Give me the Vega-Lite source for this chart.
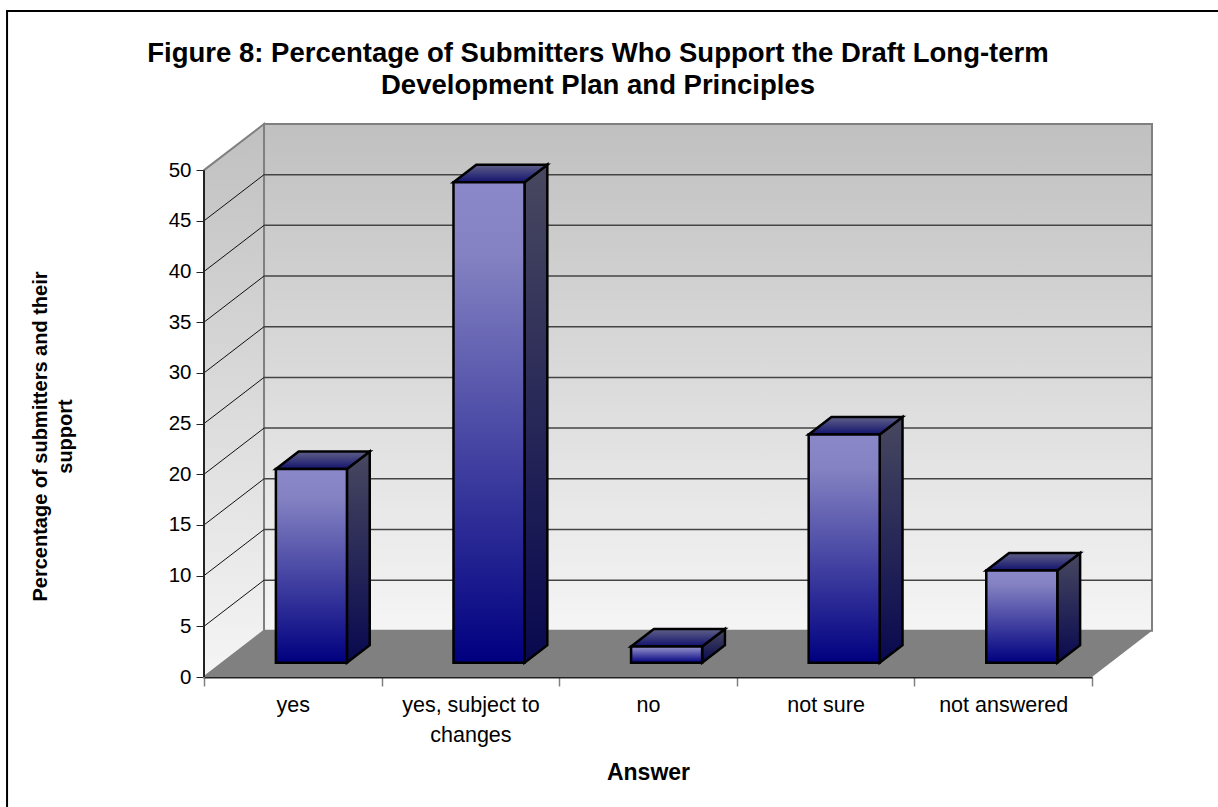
{
  "$schema": "https://vega.github.io/schema/vega-lite/v6.json",
  "autosize": {"type": "none"},
  "width": 948,
  "height": 553,
  "padding": {"left": 204, "top": 124, "right": 66, "bottom": 130},
  "background": "white",
  "config": {"view": {"stroke": null}, "font": "Liberation Sans"},
  "title": {
    "text": ["Figure 8: Percentage of Submitters Who Support the Draft Long-term", "Development Plan and Principles"],
    "font": "Liberation Sans", "fontSize": 27.5, "fontWeight": "bold", "color": "black",
    "anchor": "middle", "frame": "group", "lineHeight": 32, "dx": -80, "offset": 28, "dy": 118
  },
  "datasets": {
    "answers": [
      {"answer": "yes", "share": 19.1},
      {"answer": "yes, subject to changes", "share": 47.4},
      {"answer": "no", "share": 1.6},
      {"answer": "not sure", "share": 22.5},
      {"answer": "not answered", "share": 9.1}
    ],
    "levels": [{"level": 5}, {"level": 10}, {"level": 15}, {"level": 20}, {"level": 25}, {"level": 30}, {"level": 35}, {"level": 40}, {"level": 45}],
    "depths": [{"d": 0}, {"d": 1}],
    "single": [{}]
  },
  "resolve": {"scale": {"x": "independent", "y": "independent"}},
  "layer": [
    {
      "data": {"name": "single"},
      "mark": {"type": "rect", "fill": null, "stroke": "black", "strokeWidth": 2},
      "encoding": {
        "x": {"datum": -1.109, "type": "quantitative", "axis": null, "scale": {"domain": [0, 5.338], "nice": false, "zero": false}},
        "x2": {"datum": 5.8},
        "y": {"datum": 65.7, "type": "quantitative", "axis": null, "scale": {"domain": [0, 54.55], "nice": false}},
        "y2": {"datum": -14}
      }
    },
    {
      "data": {"name": "depths"},
      "transform": [
        {"calculate": "datum.d * 0.338", "as": "wx"},
        {"calculate": "datum.d * 4.55", "as": "wy0"},
        {"calculate": "50 + datum.d * 4.55", "as": "wy1"}
      ],
      "mark": {"type": "area", "orient": "vertical", "stroke": "#808080", "strokeWidth": 2,
        "fill": {"gradient": "linear", "x1": 0, "y1": 0, "x2": 0, "y2": 1, "stops": [{"offset": 0, "color": "#c0c0c0"}, {"offset": 1, "color": "#f5f5f5"}]}},
      "encoding": {
        "x": {"field": "wx", "type": "quantitative", "axis": null, "scale": {"domain": [0, 5.338], "nice": false, "zero": false}},
        "y": {"field": "wy1", "type": "quantitative", "axis": null, "scale": {"domain": [0, 54.55], "nice": false}},
        "y2": {"field": "wy0"}
      }
    },
    {
      "data": {"name": "single"},
      "mark": {"type": "rect", "stroke": "#808080", "strokeWidth": 2,
        "fill": {"gradient": "linear", "x1": 0, "y1": 0, "x2": 0, "y2": 1, "stops": [{"offset": 0, "color": "#c0c0c0"}, {"offset": 1, "color": "#f5f5f5"}]}},
      "encoding": {
        "x": {"datum": 0.338, "type": "quantitative", "axis": null, "scale": {"domain": [0, 5.338], "nice": false, "zero": false}},
        "x2": {"datum": 5.338},
        "y": {"datum": 54.55, "type": "quantitative", "axis": null, "scale": {"domain": [0, 54.55], "nice": false}},
        "y2": {"datum": 4.55}
      }
    },
    {
      "data": {"name": "depths"},
      "transform": [
        {"calculate": "datum.d * 0.338", "as": "fx0"},
        {"calculate": "5 + datum.d * 0.338", "as": "fx1"},
        {"calculate": "datum.d * 4.55", "as": "fy"}
      ],
      "mark": {"type": "area", "orient": "horizontal", "fill": "#808080"},
      "encoding": {
        "x": {"field": "fx0", "type": "quantitative", "axis": null, "scale": {"domain": [0, 5.338], "nice": false, "zero": false}},
        "x2": {"field": "fx1"},
        "y": {"field": "fy", "type": "quantitative", "axis": null, "scale": {"domain": [0, 54.55], "nice": false}}
      }
    },
    {
      "data": {"name": "levels"},
      "transform": [{"calculate": "datum.level + 4.55", "as": "back"}],
      "mark": {"type": "rule", "color": "#444444", "strokeWidth": 1.5},
      "encoding": {
        "x": {"datum": 0.338, "type": "quantitative", "axis": null, "scale": {"domain": [0, 5.338], "nice": false, "zero": false}},
        "x2": {"datum": 5.338},
        "y": {"field": "back", "type": "quantitative", "axis": null, "scale": {"domain": [0, 54.55], "nice": false}}
      }
    },
    {
      "data": {"name": "levels"},
      "transform": [{"calculate": "datum.level + 4.55", "as": "back"}],
      "mark": {"type": "rule", "color": "#111111", "strokeWidth": 1},
      "encoding": {
        "x": {"datum": 0, "type": "quantitative", "axis": null, "scale": {"domain": [0, 5.338], "nice": false, "zero": false}},
        "x2": {"datum": 0.338},
        "y": {"field": "level", "type": "quantitative", "axis": null, "scale": {"domain": [0, 54.55], "nice": false}},
        "y2": {"field": "back"}
      }
    },
    {
      "data": {"name": "answers"},
      "transform": [
        {"window": [{"op": "row_number", "as": "rank"}]},
        {"calculate": "[0.31, 0.69]", "as": "d"},
        {"flatten": ["d"]},
        {"calculate": "datum.rank - 0.3 + datum.d * 0.338", "as": "sx"},
        {"calculate": "datum.d * 4.55", "as": "sy0"},
        {"calculate": "datum.share + datum.d * 4.55", "as": "sy1"}
      ],
      "mark": {"type": "area", "orient": "vertical", "stroke": "black", "strokeWidth": 2.5,
        "fill": {"gradient": "linear", "x1": 0, "y1": 0, "x2": 0, "y2": 1, "stops": [{"offset": 0, "color": "#484860"}, {"offset": 1, "color": "#080850"}]}},
      "encoding": {
        "x": {"field": "sx", "type": "quantitative", "axis": null, "scale": {"domain": [0, 5.338], "nice": false, "zero": false}},
        "y": {"field": "sy1", "type": "quantitative", "axis": null, "scale": {"domain": [0, 54.55], "nice": false}},
        "y2": {"field": "sy0"},
        "detail": {"field": "answer"}
      }
    },
    {
      "data": {"name": "answers"},
      "transform": [
        {"window": [{"op": "row_number", "as": "rank"}]},
        {"calculate": "[0.31, 0.69]", "as": "d"},
        {"flatten": ["d"]},
        {"calculate": "datum.rank - 0.7 + datum.d * 0.338", "as": "tx0"},
        {"calculate": "datum.rank - 0.3 + datum.d * 0.338", "as": "tx1"},
        {"calculate": "datum.share + datum.d * 4.55", "as": "ty"}
      ],
      "mark": {"type": "area", "orient": "horizontal", "stroke": "black", "strokeWidth": 2.5,
        "fill": {"gradient": "linear", "x1": 0, "y1": 0, "x2": 0, "y2": 1, "stops": [{"offset": 0, "color": "#606088"}, {"offset": 1, "color": "#12126e"}]}},
      "encoding": {
        "x": {"field": "tx0", "type": "quantitative", "axis": null, "scale": {"domain": [0, 5.338], "nice": false, "zero": false}},
        "x2": {"field": "tx1"},
        "y": {"field": "ty", "type": "quantitative", "axis": null, "scale": {"domain": [0, 54.55], "nice": false}},
        "detail": {"field": "answer"}
      }
    },
    {
      "data": {"name": "answers"},
      "transform": [
        {"window": [{"op": "row_number", "as": "rank"}]},
        {"calculate": "datum.rank - 0.7 + 0.31 * 0.338", "as": "fx0"},
        {"calculate": "datum.rank - 0.3 + 0.31 * 0.338", "as": "fx1"},
        {"calculate": "0.31 * 4.55", "as": "fy0"},
        {"calculate": "datum.share + 0.31 * 4.55", "as": "fy1"}
      ],
      "mark": {"type": "rect", "stroke": "black", "strokeWidth": 2.5,
        "fill": {"gradient": "linear", "x1": 0, "y1": 0, "x2": 0, "y2": 1, "stops": [{"offset": 0, "color": "#8a88c8"}, {"offset": 0.15, "color": "#8482c2"}, {"offset": 1, "color": "#000080"}]}},
      "encoding": {
        "x": {"field": "fx0", "type": "quantitative", "axis": null, "scale": {"domain": [0, 5.338], "nice": false, "zero": false}},
        "x2": {"field": "fx1"},
        "y": {"field": "fy1", "type": "quantitative", "axis": null, "scale": {"domain": [0, 54.55], "nice": false}},
        "y2": {"field": "fy0"}
      }
    },
    {
      "data": {"name": "single"},
      "mark": {"type": "rule", "color": "#222222", "strokeWidth": 2},
      "encoding": {
        "x": {"datum": 0, "type": "quantitative", "axis": null, "scale": {"domain": [0, 5.338], "nice": false, "zero": false}},
        "y": {
          "datum": 0, "type": "quantitative",
          "scale": {"domain": [0, 54.55], "nice": false},
          "axis": {
            "title": ["Percentage of submitters and their", "support"],
            "titleFont": "Liberation Sans", "titleFontSize": 20, "titleFontWeight": "bold", "titleColor": "black",
            "titleX": -154, "titleY": 312, "titleAngle": -90, "titleAlign": "center", "titleLineHeight": 25,
            "values": [0, 5, 10, 15, 20, 25, 30, 35, 40, 45, 50],
            "domain": false, "grid": false,
            "tickColor": "#222222", "tickSize": 8, "tickWidth": 1,
            "labelFont": "Liberation Sans", "labelFontSize": 20.5, "labelColor": "black", "labelPadding": 5
          }
        },
        "y2": {"datum": 50}
      }
    },
    {
      "data": {"name": "answers"},
      "mark": {"type": "rule", "opacity": 0},
      "encoding": {
        "x": {
          "field": "answer", "type": "nominal", "sort": null,
          "scale": {"range": [0, 888], "paddingInner": 0, "paddingOuter": 0},
          "axis": {
            "title": "Answer",
            "titleFont": "Liberation Sans", "titleFontSize": 23, "titleFontWeight": "bold", "titleColor": "black", "titlePadding": 16,
            "labelAngle": 0, "labelLimit": 0,
            "tickBand": "extent", "tickColor": "#808080", "tickSize": 9, "tickWidth": 1.5,
            "domainColor": "#222222", "domainWidth": 2,
            "labelFont": "Liberation Sans", "labelFontSize": 21.5, "labelColor": "black", "labelPadding": 8, "labelLineHeight": 30,
            "labelExpr": "datum.value === 'yes, subject to changes' ? ['yes, subject to', 'changes'] : datum.value"
          }
        }
      }
    }
  ]
}
